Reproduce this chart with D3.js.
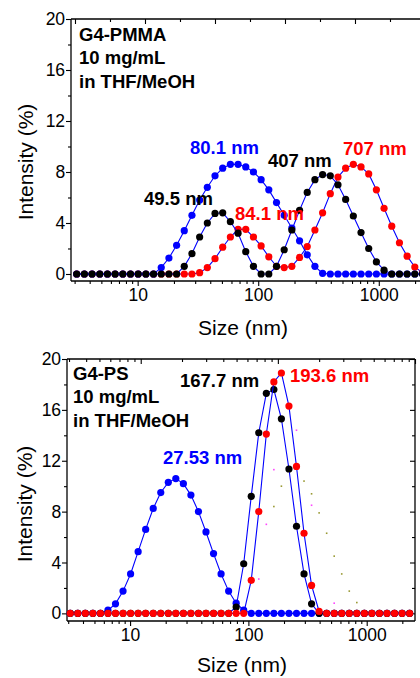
<!DOCTYPE html>
<html><head><meta charset="utf-8">
<script src="https://cdn.jsdelivr.net/npm/d3@7"></script>
<style>
html,body{margin:0;padding:0;background:#fff;}
svg{display:block;}
text{font-family:"Liberation Sans",Arial,sans-serif;}
</style></head>
<body>
<script>
// DLS size bins (nm)
const sizes = [3.122,3.615,4.187,4.849,5.615,6.503,7.531,8.721,10.10,11.70,13.54,15.69,18.17,21.04,24.36,28.21,32.67,37.84,43.82,50.75,58.77,68.06,78.82,91.28,105.7,122.4,141.8,164.2,190.1,220.2,255.0,295.3,342.0,396.1,458.7,531.2,615.1,712.4,825.0,955.4,1106,1281,1484,1718,1990,2305];

// Top panel: G4-PMMA
const pmmaBlue  = [0,0,0,0,0,0,0,0,0,0,0,0.5,1.25,2.25,3.4,4.6,5.8,6.8,7.7,8.3,8.6,8.6,8.4,8.0,7.4,6.6,5.6,4.6,3.6,2.6,1.5,0.6,0.05,0,0,0,0,0,0,0,0,0,0,0,0,0];
const pmmaBlack = [0,0,0,0,0,0,0,0,0,0,0,0,0,0,0.6,1.6,2.9,4.0,4.75,4.8,4.1,3.2,1.75,0.6,0,0,0.6,1.9,3.45,5.0,6.4,7.4,7.8,7.7,7.0,5.85,4.55,3.25,2.0,0.95,0.3,0,0,0,0,0];
const pmmaRed   = [0,0,0,0,0,0,0,0,0,0,0,0,0,0,0,0,0.1,0.5,1.2,2.1,2.9,3.5,3.5,2.9,2.2,1.35,0.6,0.5,0.6,1.3,2.15,3.45,4.8,6.3,7.6,8.3,8.6,8.4,7.85,6.6,5.15,3.75,2.45,1.4,0.55,0.1];

// Bottom panel: G4-PS
const psBlue  = [0,0,0,0,0,0.25,0.75,1.75,3.1,4.85,6.6,8.25,9.5,10.3,10.6,10.2,9.3,8.0,6.4,4.7,3.1,1.75,0.8,0.25,0,0,0,0,0,0,0,0,0,0,0,0,0,0,0,0,0,0,0,0,0,0];
const psBlack = [0,0,0,0,0,0,0,0,0,0,0,0,0,0,0,0,0,0,0,0,0,0,0.5,3.9,9.2,14.2,17.3,17.6,15.3,11.35,6.85,3.1,0.75,0,0,0,0,0,0,0,0,0,0,0,0,0];
const psRed   = [0,0,0,0,0,0,0,0,0,0,0,0,0,0,0,0,0,0,0,0,0,0,0,0,2.6,8.0,14.1,18.2,18.9,16.3,11.55,6.3,2.2,0.15,0,0,0,0,0,0,0,0,0,0,0,0];
// faint small-dot series
const psMagentaSize = [122.4,141.8,164.2,190.1,255.0,342.0,531.2];
const psMagenta     = [2.7,7.0,11.3,15.3,14.4,8.5,0.8];
const psOliveSize   = [164.2,190.1,295.3,342.0,396.1,458.7,531.2,615.1,712.4,825.0];
const psOlive       = [8.4,10.0,10.4,9.4,7.9,6.3,4.5,3.1,1.75,0.85];

const yMajor = [0,4,8,12,16,20];
const yMinor = [2,6,10,14,18];
const xMajor = [10,100,1000];
const xMinor = [3,4,5,6,7,8,9,20,30,40,50,60,70,80,90,200,300,400,500,600,700,800,900,2000];

const BLUE = "#0000ff", RED = "#ff0000", BLACK = "#000000";

const W = 420, H = 678;
const svg = d3.select("body").append("svg").attr("width", W).attr("height", H)
  .style("background", "#fff");

function panel(cfg) {
  const g = svg.append("g");
  const x = d3.scaleLog().domain(cfg.xDomain).range(cfg.xRange);
  const y = d3.scaleLinear().domain(cfg.yDomain).range(cfg.yRange);
  const [x0, x1] = cfg.xRange, [yb, yt] = cfg.yRange;

  // bottom axis
  const bx = g.append("g").attr("transform", `translate(0,${yb})`);
  bx.call(d3.axisBottom(x).tickValues(xMinor).tickSize(3).tickFormat(""));
  bx.call(g2 => g2.append("g").call(d3.axisBottom(x).tickValues(xMajor).tickSize(5).tickFormat(d3.format("d"))));
  // left axis
  const ly = g.append("g").attr("transform", `translate(${x0},0)`);
  ly.call(d3.axisLeft(y).tickValues(yMinor).tickSize(3).tickFormat(""));
  ly.call(g2 => g2.append("g").call(d3.axisLeft(y).tickValues(yMajor).tickSize(5).tickFormat(d3.format("d"))));
  // top axis
  const tx = g.append("g").attr("transform", `translate(0,${yt})`);
  if (cfg.topLinear) {
    const xt = d3.scaleLinear().domain(cfg.topDomain).range(cfg.xRange);
    tx.call(d3.axisTop(xt).tickValues([1,3,5,7,9]).tickSize(-3).tickFormat(""));
    tx.call(g2 => g2.append("g").call(d3.axisTop(xt).tickValues([0,2,4,6,8,10]).tickSize(-5).tickFormat("")));
  } else {
    const xt = d3.scaleLog().domain(cfg.topDomain).range(cfg.xRange);
    tx.call(d3.axisTop(xt).tickValues([3,4,5,6,7,8,9,20,30,40,50,60,70,80,90,200,300,400,500,600,700,800,900]).tickSize(-3).tickFormat(""));
    tx.call(g2 => g2.append("g").call(d3.axisTop(xt).tickValues([10,100,1000]).tickSize(-5).tickFormat("")));
  }
  // right axis
  const ry = g.append("g").attr("transform", `translate(${x1},0)`);
  ry.call(d3.axisRight(y).tickValues(yMinor).tickSize(-3).tickFormat(""));
  ry.call(g2 => g2.append("g").call(d3.axisRight(y).tickValues(yMajor).tickSize(-5).tickFormat("")));

  g.selectAll(".tick line").attr("stroke", "#000").attr("stroke-width", 1.1);
  g.selectAll(".tick text").attr("font-family", '"Liberation Sans",Arial,sans-serif')
    .attr("font-size", 17.5).attr("fill", "#000");
  ly.selectAll(".tick text").attr("dx", "0.12em");
  g.selectAll(".domain").remove();
  g.append("line").attr("x1", x0).attr("x2", x1).attr("y1", yb).attr("y2", yb).attr("stroke", "#000").attr("stroke-width", 1.3);
  g.append("line").attr("x1", x0).attr("x2", x1).attr("y1", yt).attr("y2", yt).attr("stroke", "#000").attr("stroke-width", 1.3);
  g.append("line").attr("x1", x0).attr("x2", x0).attr("y1", yb).attr("y2", yt).attr("stroke", "#000").attr("stroke-width", 1.3);
  g.append("line").attr("x1", x1).attr("x2", x1).attr("y1", yb).attr("y2", yt).attr("stroke", "#000").attr("stroke-width", 1.3);

  // small dot series
  (cfg.dots || []).forEach(d => {
    g.append("g").selectAll("rect").data(d.vals).join("rect")
      .attr("x", (v, i) => x(d.sizes[i]) - 0.8).attr("y", v => y(v) - 0.8)
      .attr("width", 1.6).attr("height", 1.6).attr("fill", d.color);
  });

  const line = d3.line().x((v, i) => x(sizes[i])).y(v => y(v));
  cfg.series.forEach(s => {
    g.append("path").datum(s.vals).attr("d", line).attr("fill", "none")
      .attr("stroke", BLUE).attr("stroke-width", 1.1);
    g.append("g").selectAll("circle").data(s.vals).join("circle")
      .attr("cx", (v, i) => x(sizes[i])).attr("cy", v => y(v)).attr("r", 3.6)
      .attr("fill", s.color);
  });

  // axis titles
  g.append("text").attr("x", cfg.xTitle[0]).attr("y", cfg.xTitle[1]).attr("text-anchor", "middle")
    .attr("font-size", 21).text("Size (nm)");
  g.append("text").attr("transform", `translate(${cfg.yTitle[0]},${cfg.yTitle[1]}) rotate(-90)`)
    .attr("text-anchor", "middle").attr("font-size", 21).text("Intensity (%)");

  cfg.notes.forEach(n => {
    g.append("text").attr("x", n[0]).attr("y", n[1]).attr("font-size", 18.5)
      .attr("font-weight", "bold").attr("fill", n[3]).text(n[2]);
  });
}

panel({
  xDomain: [2.8, 2560], xRange: [71, 428],
  yDomain: [-0.55, 20], yRange: [281, 19],
  topLinear: true, topDomain: [-0.114, 10.086],
  series: [{vals: pmmaRed, color: RED}, {vals: pmmaBlue, color: BLUE}, {vals: pmmaBlack, color: BLACK}],
  xTitle: [243, 335], yTitle: [33, 162],
  notes: [[79, 41, "G4-PMMA", BLACK], [79, 64, "10 mg/mL", BLACK], [79, 88, "in THF/MeOH", BLACK],
          [190, 154, "80.1 nm", BLUE], [268, 167, "407 nm", BLACK], [343, 155, "707 nm", RED],
          [144, 205, "49.5 nm", BLACK], [235, 220, "84.1 nm", RED]]
});

panel({
  xDomain: [2.93, 2560], xRange: [67, 415],
  yDomain: [-0.6, 20], yRange: [621, 359],
  topLinear: false, topDomain: [2.9, 1000],
  dots: [{sizes: psMagentaSize, vals: psMagenta, color: "#ff44ff"}, {sizes: psOliveSize, vals: psOlive, color: "#999933"}],
  series: [{vals: psBlue, color: BLUE}, {vals: psBlack, color: BLACK}, {vals: psRed, color: RED}],
  xTitle: [242, 672], yTitle: [32, 504],
  notes: [[73, 380, "G4-PS", BLACK], [73, 403, "10 mg/mL", BLACK], [73, 427, "in THF/MeOH", BLACK],
          [180, 387, "167.7 nm", BLACK], [290, 382, "193.6 nm", RED], [163, 464, "27.53 nm", BLUE]]
});
</script>
</body></html>
